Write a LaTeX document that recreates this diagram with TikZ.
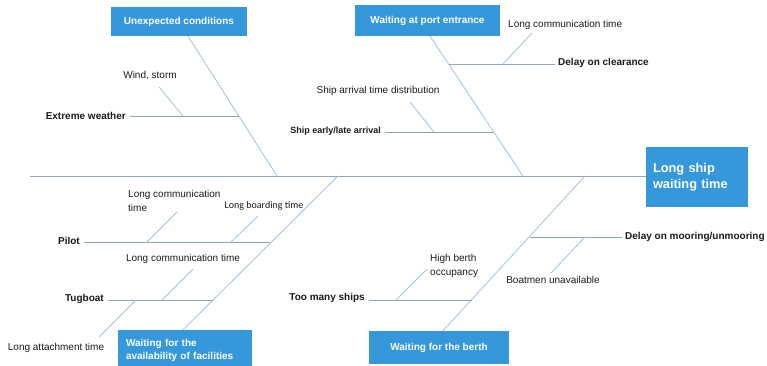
\documentclass[tikz,border=0pt]{standalone}
\usepackage{fontspec}
\setmainfont{Liberation Sans}
\newfontfamily\narrowfont{Carlito}
\usetikzlibrary{calc}
\definecolor{boxblue}{HTML}{3598DB}
\definecolor{bonecol}{HTML}{A3C1DA}
\definecolor{ribcol}{HTML}{8FA5BA}
\definecolor{txt}{HTML}{1A1A1A}
\tikzset{
  catbox/.style={fill=boxblue, text=white, font=\bfseries\fontsize{10}{12.5}\selectfont, inner sep=0pt},
  headbox/.style={fill=boxblue, text=white, font=\bfseries\fontsize{12.8}{16}\selectfont, inner sep=0pt},
  cause/.style={text=txt, font=\bfseries\fontsize{10}{12}\selectfont, inner xsep=3.5pt, inner ysep=0pt},
  smallcause/.style={text=txt, font=\bfseries\fontsize{9}{11}\selectfont, inner xsep=3.5pt, inner ysep=0pt},
  subcause/.style={text=txt, font=\fontsize{10}{13.5}\selectfont, inner sep=0pt, align=left},
  bone/.style={draw=bonecol, line width=0.8pt},
  rib/.style={draw=ribcol, line width=0.8pt},
}
\begin{document}
\begin{tikzpicture}[x=1pt, y=-1pt]
\useasboundingbox (0,0) rectangle (767,366);

% head of the fish
\node[headbox, minimum width=102pt, minimum height=59pt, text width=88pt, align=left]
  (head) at (697,177) {Long ship\\waiting time};
\coordinate (tail) at (30,176);
\draw[rib] (tail) -- (head.west |- tail);

% category boxes
\node[catbox, minimum width=136pt, minimum height=29pt] (unexp) at (179,21.5) {Unexpected conditions};
\node[catbox, minimum width=145pt, minimum height=31pt] (port) at (427.5,20.5) {Waiting at port entrance};
\node[catbox, minimum width=134pt, minimum height=41pt, text width=118pt, align=left]
  (facil) at (185,350.5) {Waiting for the\\availability of facilities};
\node[catbox, minimum width=140pt, minimum height=33pt] (berth) at (439,347.5) {Waiting for the berth};

% main bones
\coordinate (unexpS) at (277,176);
\coordinate (portS) at (523,176);
\coordinate (facilS) at (338,176);
\coordinate (berthS) at (585,176);
\draw[bone] (unexp.south -| 188,0) -- (unexpS);
\draw[bone] (port.south -| 430,0) -- (portS);
\draw[bone] (facil.north -| 183,0) -- (facilS);
\draw[bone] (berth.north -| 443,0) -- (berthS);

% Unexpected conditions
\node[cause, anchor=east] (weather) at (129.5,116) {Extreme weather};
\coordinate (weatherB) at (239,116);
\draw[rib] (weather.east) -- (weatherB);
\node[subcause, anchor=center] (wind) at (150,76) {Wind, storm};
\coordinate (windB) at (183,116);
\draw[bone] (159,87) coordinate (windE) -- (windB);

% Waiting at port entrance
\node[cause, anchor=west] (clear) at (554.5,63) {Delay on clearance};
\coordinate (clearB) at (449,64);
\draw[rib] (clearB) -- (clear.west |- clearB);
\node[subcause, anchor=west] (comm1) at (508,25) {Long communication time};
\coordinate (comm1B) at (503,64);
\draw[bone] (532,33) coordinate (comm1E) -- (comm1B);

\node[smallcause, anchor=east] (early) at (384.5,131) {Ship early/late arrival};
\coordinate (earlyB) at (494,132);
\draw[rib] (early.east |- earlyB) -- (earlyB);
\node[subcause, anchor=center] (arriv) at (378,91) {Ship arrival time distribution};
\coordinate (arrivB) at (434,132);
\draw[bone] (410,102) coordinate (arrivE) -- (arrivB);

% Waiting for the availability of facilities
\node[cause, anchor=east] (pilot) at (83.5,241) {Pilot};
\coordinate (pilotB) at (270,242);
\draw[rib] (pilot.east |- pilotB) -- (pilotB);
\node[subcause, anchor=north west] (comm2) at (128,190.5) {Long communication\\time};
\coordinate (comm2B) at (147,242);
\draw[bone] (177,212) coordinate (comm2E) -- (comm2B);
\node[text=txt, font=\narrowfont\fontsize{10}{12}\selectfont, inner sep=0pt] (board) at (264,206) {Long boarding time};
\coordinate (boardB) at (231,242);
\draw[bone] (258,216) coordinate (boardE) -- (boardB);

\node[cause, anchor=east] (tug) at (107.5,299) {Tugboat};
\coordinate (tugB) at (213,300);
\draw[rib] (tug.east |- tugB) -- (tugB);
\node[subcause, anchor=center] (comm3) at (183,259) {Long communication time};
\coordinate (comm3B) at (162,300);
\draw[bone] (193,269) coordinate (comm3E) -- (comm3B);
\node[subcause, anchor=center] (attach) at (56,348) {Long attachment time};
\coordinate (attachB) at (136,300);
\draw[bone] (99,337) coordinate (attachE) -- (attachB);

% Waiting for the berth
\node[cause, anchor=east] (many) at (368.5,298) {Too many ships};
\coordinate (manyB) at (472,300);
\draw[rib] (many.east |- manyB) -- (manyB);
\node[subcause, anchor=north west] (occup) at (430,254.5) {High berth\\occupancy};
\coordinate (occupB) at (396,300);
\draw[bone] (427,269) coordinate (occupE) -- (occupB);

\node[cause, anchor=west] (moor) at (621.5,237) {Delay on mooring/unmooring};
\coordinate (moorB) at (530,237);
\draw[rib] (moorB) -- (moor.west |- moorB);
\node[subcause, anchor=center] (boat) at (553,280) {Boatmen unavailable};
\coordinate (boatB) at (585,237);
\draw[bone] (551,273) coordinate (boatE) -- (boatB);
\end{tikzpicture}
\end{document}
